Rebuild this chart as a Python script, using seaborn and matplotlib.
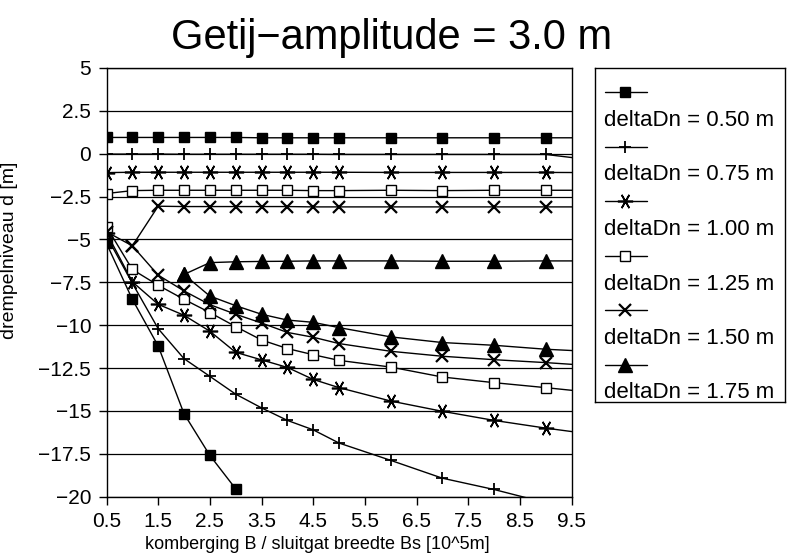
import matplotlib
matplotlib.use("Agg")
import matplotlib.pyplot as plt
import seaborn as sns
from matplotlib.lines import Line2D

# ---------------- data ----------------
title = "Getij\u2212amplitude = 3.0 m"
xlabel = "komberging B / sluitgat breedte Bs [10^5m]"
ylabel = "drempelniveau d [m]"
x_ticks = [0.5, 1.5, 2.5, 3.5, 4.5, 5.5, 6.5, 7.5, 8.5, 9.5]
y_ticks = [5, 2.5, 0, -2.5, -5, -7.5, -10, -12.5, -15, -17.5, -20]
y_tick_labels = ["5", "2.5", "0", "\u22122.5", "\u22125", "\u22127.5", "\u221210",
                 "\u221212.5", "\u221215", "\u221217.5", "\u221220"]
series_labels = ["deltaDn = 0.50 m", "deltaDn = 0.75 m", "deltaDn = 1.00 m",
                 "deltaDn = 1.25 m", "deltaDn = 1.50 m", "deltaDn = 1.75 m"]

# upper branches
up_x_050 = [0.5, 1, 1.5, 2, 2.5, 3, 3.5, 4, 4.5, 5, 6, 7, 8, 9, 10]
up_y_050 = [0.95, 0.95, 0.95, 0.95, 0.95, 0.95, 0.93, 0.93, 0.93, 0.93, 0.93, 0.93, 0.93, 0.93, 0.93]
up_x_075 = [0.5, 1, 1.5, 2, 2.5, 3, 3.5, 4, 4.5, 5, 6, 7, 8, 9, 10]
up_y_075 = [-0.02, -0.02, -0.02, -0.03, -0.03, -0.03, -0.03, -0.03, -0.03, -0.04, -0.04, -0.04, -0.04, -0.04, -0.40]
up_x_100 = [0.5, 1, 1.5, 2, 2.5, 3, 3.5, 4, 4.5, 5, 6, 7, 8, 9, 10]
up_y_100 = [-1.10, -1.08, -1.08, -1.08, -1.08, -1.08, -1.08, -1.08, -1.08, -1.08, -1.09, -1.09, -1.09, -1.09, -1.10]
up_x_125 = [0.5, 1, 1.5, 2, 2.5, 3, 3.5, 4, 4.5, 5, 6, 7, 8, 9, 10]
up_y_125 = [-2.32, -2.15, -2.13, -2.13, -2.13, -2.13, -2.13, -2.13, -2.15, -2.15, -2.13, -2.15, -2.13, -2.13, -2.13]
up_x_150 = [1, 1.5, 2, 2.5, 3, 3.5, 4, 4.5, 5, 6, 7, 8, 9, 10]
up_y_150 = [-5.37, -3.06, -3.08, -3.08, -3.08, -3.08, -3.08, -3.10, -3.10, -3.10, -3.10, -3.10, -3.10, -3.10]
up_x_175 = [2, 2.5, 3, 3.5, 4, 4.5, 5, 6, 7, 8, 9, 10]
up_y_175 = [-7.04, -6.35, -6.30, -6.28, -6.27, -6.25, -6.25, -6.25, -6.27, -6.27, -6.25, -6.25]

# lower branches
lo_x_050 = [0.5, 1, 1.5, 2, 2.5, 3]
lo_y_050 = [-5.23, -8.49, -11.21, -15.16, -17.59, -19.54]
lo_x_075 = [0.5, 1, 1.5, 2, 2.5, 3, 3.5, 4, 4.5, 5, 6, 7, 8, 9]
lo_y_075 = [-4.80, -7.55, -10.20, -11.95, -12.98, -14.02, -14.82, -15.55, -16.10, -16.87, -17.88, -18.92, -19.58, -20.35]
lo_x_100 = [0.5, 1, 1.5, 2, 2.5, 3, 3.5, 4, 4.5, 5, 6, 7, 8, 9, 10]
lo_y_100 = [-4.60, -7.47, -8.78, -9.42, -10.35, -11.58, -12.02, -12.46, -13.16, -13.64, -14.42, -15.02, -15.55, -16.00, -16.40]
lo_x_125 = [0.5, 1, 1.5, 2, 2.5, 3, 3.5, 4, 4.5, 5, 6, 7, 8, 9, 10]
lo_y_125 = [-4.26, -6.75, -7.67, -8.49, -9.26, -10.08, -10.86, -11.36, -11.72, -12.05, -12.44, -13.02, -13.35, -13.64, -13.95]
lo_x_150 = [0.5, 1, 1.5, 2, 2.5, 3, 3.5, 4, 4.5, 5, 6, 7, 8, 9, 10]
lo_y_150 = [-4.55, -5.37, -7.08, -8.00, -8.80, -9.36, -9.87, -10.42, -10.70, -11.07, -11.52, -11.81, -12.01, -12.18, -12.38]
lo_x_175 = [2, 2.5, 3, 3.5, 4, 4.5, 5, 6, 7, 8, 9, 10]
lo_y_175 = [-7.04, -8.30, -8.86, -9.36, -9.70, -9.83, -10.14, -10.68, -11.01, -11.17, -11.40, -11.55]

upper = [(up_x_050, up_y_050), (up_x_075, up_y_075), (up_x_100, up_y_100),
         (up_x_125, up_y_125), (up_x_150, up_y_150), (up_x_175, up_y_175)]
lower = [(lo_x_050, lo_y_050), (lo_x_075, lo_y_075), (lo_x_100, lo_y_100),
         (lo_x_125, lo_y_125), (lo_x_150, lo_y_150), (lo_x_175, lo_y_175)]

# ---------------- styles ----------------
styles = [
    dict(marker="s", markersize=6.5, markerfacecolor="black", markeredgecolor="black", markeredgewidth=1),
    dict(marker="+", markersize=9, markerfacecolor="black", markeredgecolor="black", markeredgewidth=1.3),
    dict(marker=(6, 2, 90), markersize=11, markerfacecolor="black", markeredgecolor="black", markeredgewidth=1.2),
    dict(marker="s", markersize=7.5, markerfacecolor="white", markeredgecolor="black", markeredgewidth=1),
    dict(marker="x", markersize=8.5, markerfacecolor="black", markeredgecolor="black", markeredgewidth=1.6),
    dict(marker="^", markersize=10, markerfacecolor="black", markeredgecolor="black", markeredgewidth=1),
]

sns.set_theme(style="white")
plt.rcParams["font.family"] = ["Liberation Sans", "DejaVu Sans"]
plt.rcParams["axes.unicode_minus"] = True

W, H = 788, 556
fig = plt.figure(figsize=(W / 100, H / 100), dpi=100)
ax_l, ax_r, ax_t, ax_b = 106.5, 571.5, 68.0, 496.7
ax = fig.add_axes([ax_l / W, 1 - ax_b / H, (ax_r - ax_l) / W, (ax_b - ax_t) / H])

for (xs, ys), st in zip(upper, styles):
    sns.lineplot(x=xs, y=ys, ax=ax, color="black", linewidth=1, sort=False,
                 estimator=None, **st)
for (xs, ys), st in zip(lower, styles):
    sns.lineplot(x=xs, y=ys, ax=ax, color="black", linewidth=1, sort=False,
                 estimator=None, **st)

ax.set_xlim(0.5, 9.5)
ax.set_ylim(-20, 5)
ax.set_xticks(x_ticks)
ax.set_xticklabels([f"{v:.1f}" for v in x_ticks])
ax.set_yticks(y_ticks)
ax.set_yticklabels(y_tick_labels)
ax.yaxis.grid(True, color="black", linewidth=0.9)
ax.xaxis.grid(False)
ax.set_axisbelow(True)
for sp in ax.spines.values():
    sp.set_color("black")
    sp.set_linewidth(1)
ax.tick_params(axis="both", direction="out", length=6, width=1, color="black",
               labelsize=15, labelcolor="black", pad=5, left=True, bottom=True)

ax.set_xlabel(xlabel, fontsize=13, color="black")
ax.xaxis.set_label_coords((317 - ax_l) / (ax_r - ax_l), -(536 - ax_b) / (ax_b - ax_t))
ax.set_ylabel(ylabel, fontsize=14, color="black")
ax.yaxis.set_label_coords((18 - ax_l) / (ax_r - ax_l), (ax_b - 250) / (ax_b - ax_t))

fig.text(392 / W, 1 - 38 / H, title, fontsize=30, ha="center", va="center", color="black")

# ---------------- legend box ----------------
lg_l, lg_r, lg_t, lg_b = 595, 785, 68, 402
lax = fig.add_axes([lg_l / W, 1 - lg_b / H, (lg_r - lg_l) / W, (lg_b - lg_t) / H])
lax.set_xlim(lg_l, lg_r)
lax.set_ylim(lg_b, lg_t)
lax.set_xticks([])
lax.set_yticks([])
lax.set_facecolor("white")
for sp in lax.spines.values():
    sp.set_color("black")
    sp.set_linewidth(1)
for i, (lab, st) in enumerate(zip(series_labels, styles)):
    yy = 92 + 54.5 * i
    lax.add_line(Line2D([605, 647], [yy, yy], color="black", linewidth=1))
    lax.add_line(Line2D([625], [yy], color="black", linestyle="none", **st))
    lax.text(604, yy + 28.5, lab, fontsize=16, ha="left", va="center", color="black")

fig.savefig("out.png", dpi=100, facecolor="white")
